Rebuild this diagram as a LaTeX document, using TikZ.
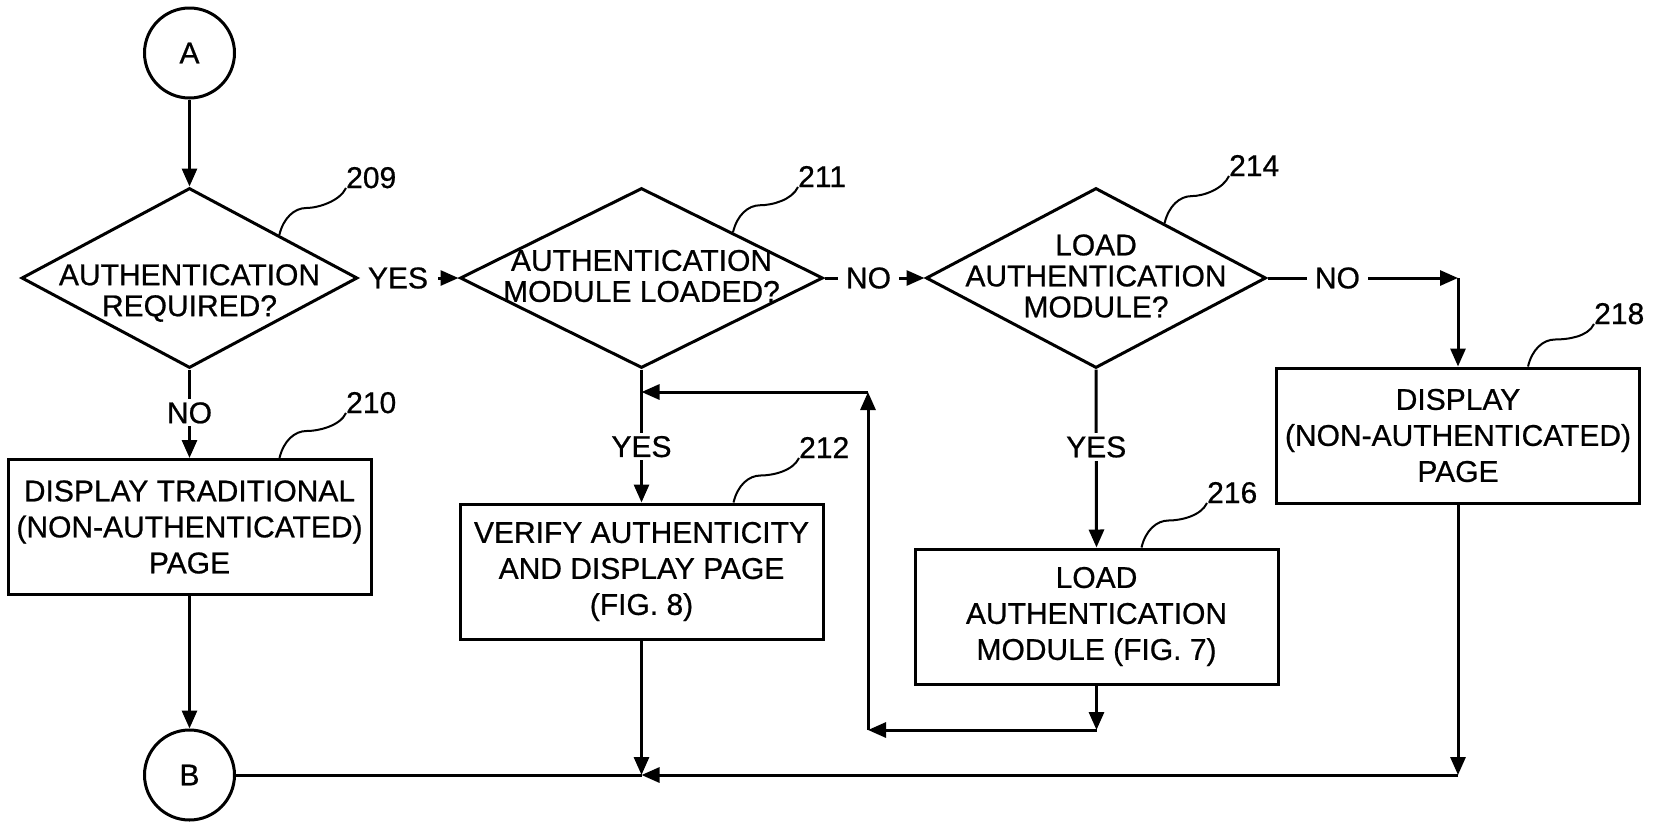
\documentclass[tikz,border=0pt]{standalone}
\usepackage{fontspec}
\setmainfont{Liberation Sans}[FakeBold=0.7]
\usetikzlibrary{arrows.meta,shapes.geometric,calc}
\begin{document}
\begin{tikzpicture}[x=1pt,y=-1pt,
  every node/.style={inner sep=0pt},
  decision/.style={draw, line width=3pt, shape=diamond, minimum height=180pt},
  procbox/.style={draw, line width=3pt, rectangle, minimum width=363pt, minimum height=135pt, align=center, font=\fontsize{30pt}{36pt}\selectfont},
  connector/.style={draw, line width=3pt, circle, minimum size=90pt, font=\fontsize{30pt}{31pt}\selectfont},
  dtext/.style={align=center, font=\fontsize{30pt}{31pt}\selectfont},
  lab/.style={fill=white, inner xsep=8pt, inner ysep=3pt, font=\fontsize{30pt}{31pt}\selectfont},
  num/.style={anchor=base west, font=\fontsize{30pt}{31pt}\selectfont},
  flow/.style={line width=3pt, -{Triangle[length=18pt,width=15pt]}},
  flatline/.style={line width=3pt},
  leader/.style={line width=2pt, to path={.. controls +(4,-17) and +(-12,0) .. ($(\tikztostart)+(27,-27)$) .. controls +(12,0) and +(-6,13) .. (\tikztotarget)}}
]
\useasboundingbox (0,0) rectangle (1658,823);

% connectors A and B
\node[connector] (A) at (189.5,53) {A};
\node[connector] (B) at (189.5,775) {B};

% decisions
\node[decision, minimum width=336pt] (d209) at (189.5,278) {};
\node[decision, minimum width=363pt] (d211) at (641.5,278) {};
\node[decision, minimum width=340pt] (d214) at (1096,278) {};
\node[dtext] (t209) at (189.5,293) {AUTHENTICATION\\REQUIRED?};
\node[dtext] (t211) at (641.5,276) {AUTHENTICATION\\MODULE LOADED?};
\node[dtext] (t214) at (1096,276) {LOAD\\AUTHENTICATION\\MODULE?};

% process boxes
\node[procbox] (b210) at (189.5,527) {DISPLAY TRADITIONAL\\(NON-AUTHENTICATED)\\PAGE};
\node[procbox] (b212) at (641.5,571.5) {VERIFY AUTHENTICITY\\AND DISPLAY PAGE\\(FIG. 8)};
\node[procbox] (b216) at (1096.5,616.5) {LOAD\\AUTHENTICATION\\MODULE (FIG. 7)};
\node[procbox] (b218) at (1458,435.5) {DISPLAY\\(NON-AUTHENTICATED)\\PAGE};

% reference numbers
\node[num] (n209) at (346,188) {209};
\node[num] (n211) at (798,187) {211};
\node[num] (n214) at (1229,176) {214};
\node[num] (n210) at (346,413) {210};
\node[num] (n212) at (799,458) {212};
\node[num] (n216) at (1207,503) {216};
\node[num] (n218) at (1594,324) {218};

% leader starts
\coordinate (s209) at ($(d209.north)!0.53!(d209.east)$);
\coordinate (s211) at ($(d211.north)!0.50!(d211.east)$);
\coordinate (s214) at ($(d214.north)!0.40!(d214.east)$);
\coordinate (s210) at ([xshift=90pt]b210.north);
\coordinate (s212) at ([xshift=92pt]b212.north);
\coordinate (s216) at ([xshift=45pt]b216.north);
\coordinate (s218) at ([xshift=70pt]b218.north);

\draw[leader] (s209) to (n209.base west);
\draw[leader] (s211) to (n211.base west);
\draw[leader] (s214) to (n214.base west);
\draw[leader] (s210) to (n210.base west);
\draw[leader] (s212) to (n212.base west);
\draw[leader] (s216) to (n216.base west);
\draw[leader] (s218) to (n218.base west);

% main flow
\draw[flow] (A) -- (d209.north);
\node[font=\fontsize{30pt}{31pt}\selectfont] (yes1) at (398,278) {YES};
\draw[flow] ([xshift=10pt]yes1.east) -- (d211.west);
\draw[flow] (d211.east) -- node[lab,pos=0.44]{NO} (d214.west);
\coordinate (c218) at (b218.north |- d214.east);
\draw[flow] (d214.east) -- node[lab,pos=0.367]{NO} (c218);
\draw[flow] (c218) -- (b218.north);

\draw[flow] (d209.south) -- node[lab,inner xsep=2pt,pos=0.49]{NO} (b210.north);
\draw[flow] (d211.south) -- node[lab,inner xsep=2pt,pos=0.58]{YES} (b212.north);
\draw[flow] (d214.south) -- node[lab,inner xsep=2pt,pos=0.435]{YES} (b216.north);

% loop back from 216 to 212
\coordinate (L1) at (b216.south |- 0,730);
\coordinate (L2) at (868,730);
\coordinate (L3) at (868,392);
\coordinate (L4) at (b212.north |- L3);
\draw[flow] (b216.south) -- (L1);
\draw[flow] (L1) -- (L2);
\draw[flow] (L2) -- (L3);
\draw[flow] (L3) -- (L4);

% bottom collector to B
\draw[flow] (b210.south) -- (B.north);
\coordinate (J) at (b212.south |- B.east);
\coordinate (K) at (b218.south |- B.east);
\draw[flatline] (B.east) -- (J);
\draw[flow] (b212.south) -- (J);
\draw[flow] (b218.south) -- (K);
\draw[flow] (K) -- (J);
\end{tikzpicture}
\end{document}
